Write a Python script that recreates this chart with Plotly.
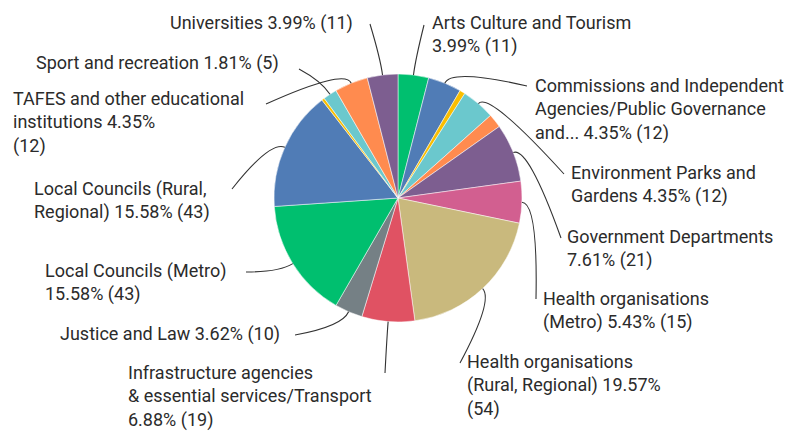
import math
import plotly.graph_objects as go

# ---- data ----
categories = [
    "Arts Culture and Tourism",
    "Commissions and Independent Agencies/Public Governance and...",
    "Education and Training",
    "Environment Parks and Gardens",
    "Federal Agencies",
    "Government Departments",
    "Health organisations (Metro)",
    "Health organisations (Rural, Regional)",
    "Infrastructure agencies & essential services/Transport",
    "Justice and Law",
    "Local Councils (Metro)",
    "Local Councils (Rural, Regional)",
    "Other",
    "Sport and recreation",
    "TAFES and other educational institutions",
    "Universities",
]
counts = [11, 12, 2, 12, 5, 21, 15, 54, 19, 10, 43, 43, 1, 5, 12, 11]
label_texts = [
    "Arts Culture and Tourism<br>3.99% (11)",
    "Commissions and Independent<br>Agencies/Public Governance<br>and... 4.35% (12)",
    None,
    "Environment Parks and<br>Gardens 4.35% (12)",
    None,
    "Government Departments<br>7.61% (21)",
    "Health organisations<br>(Metro) 5.43% (15)",
    "Health organisations<br>(Rural, Regional) 19.57%<br>(54)",
    "Infrastructure agencies<br>& essential services/Transport<br>6.88% (19)",
    "Justice and Law 3.62% (10)",
    "Local Councils (Metro)<br>15.58% (43)",
    "Local Councils (Rural,<br>Regional) 15.58% (43)",
    None,
    "Sport and recreation 1.81% (5)",
    "TAFES and other educational<br>institutions 4.35%<br>(12)",
    "Universities 3.99% (11)",
]

# ---- style / layout ----
colors = ["#00BF6F", "#507CB6", "#F9BE00", "#6BC8CD", "#FF8B4F", "#7D5E90",
          "#D25F90", "#C9B97D", "#E05263", "#758085",
          "#00BF6F", "#507CB6", "#F9BE00", "#6BC8CD", "#FF8B4F", "#7D5E90"]

W, H = 798, 432
CX, CY, R = 390, 190, 124
FONT = dict(family="Roboto, Arial, sans-serif", size=18, color="#2b2b2b")
X_SHIFT, Y_SHIFT = -10, -20

# label placement (pixel, top-left origin): text left x, first-line centre y, leader end point
label_pos = [
    (432, 22, (416, 17)),
    (535, 85, (519, 78)),
    None,
    (571, 172, (556, 166)),
    None,
    (567, 236, (553, 230)),
    (543, 298, (528, 291)),
    (467, 361, (452, 355)),
    (128, 372, (377, 365)),
    (60, 333, (287, 327)),
    (45, 270, (238, 264)),
    (34, 188, (224, 181)),
    None,
    (36, 62, (291, 61)),
    (13, 98, (258, 96)),
    (170, 22, (362, 16)),
]


def px(x):
    return x / W


def py(y):
    return 1 - y / H


fig = go.Figure(go.Pie(
    labels=categories,
    values=counts,
    sort=False,
    direction="clockwise",
    rotation=0,
    textinfo="none",
    marker=dict(colors=colors, line=dict(color="white", width=0.5)),
    domain=dict(x=[px(CX - R), px(CX + R)], y=[py(CY + R), py(CY - R)]),
    showlegend=False,
))

total = sum(counts)
cum = 0
annotations = []
shapes = []
for v, txt, pos in zip(counts, label_texts, label_pos):
    mid = (cum + v / 2) / total * 2 * math.pi
    cum += v
    if txt is None:
        continue
    lx, ly, (ex, ey) = pos
    dx, dy = math.sin(mid), -math.cos(mid)
    p0 = (CX + R * dx, CY + R * dy)
    pc = (CX + (R + 16) * dx, CY + (R + 16) * dy)
    path = (f"M {px(p0[0])},{py(p0[1])} Q {px(pc[0])},{py(pc[1])} "
            f"{px(ex)},{py(ey)}")
    shapes.append(dict(type="path", path=path, xref="paper", yref="paper",
                       line=dict(color="#333333", width=1.1)))
    annotations.append(dict(
        text=txt, x=px(lx + X_SHIFT), y=py(ly + Y_SHIFT), xref="paper", yref="paper",
        xanchor="left", yanchor="top", align="left", showarrow=False,
        font=FONT,
    ))

fig.update_layout(
    width=W, height=H,
    margin=dict(l=0, r=0, t=0, b=0),
    paper_bgcolor="white", plot_bgcolor="white",
    annotations=annotations, shapes=shapes,
    font=FONT,
)

fig.write_html("out.html")
